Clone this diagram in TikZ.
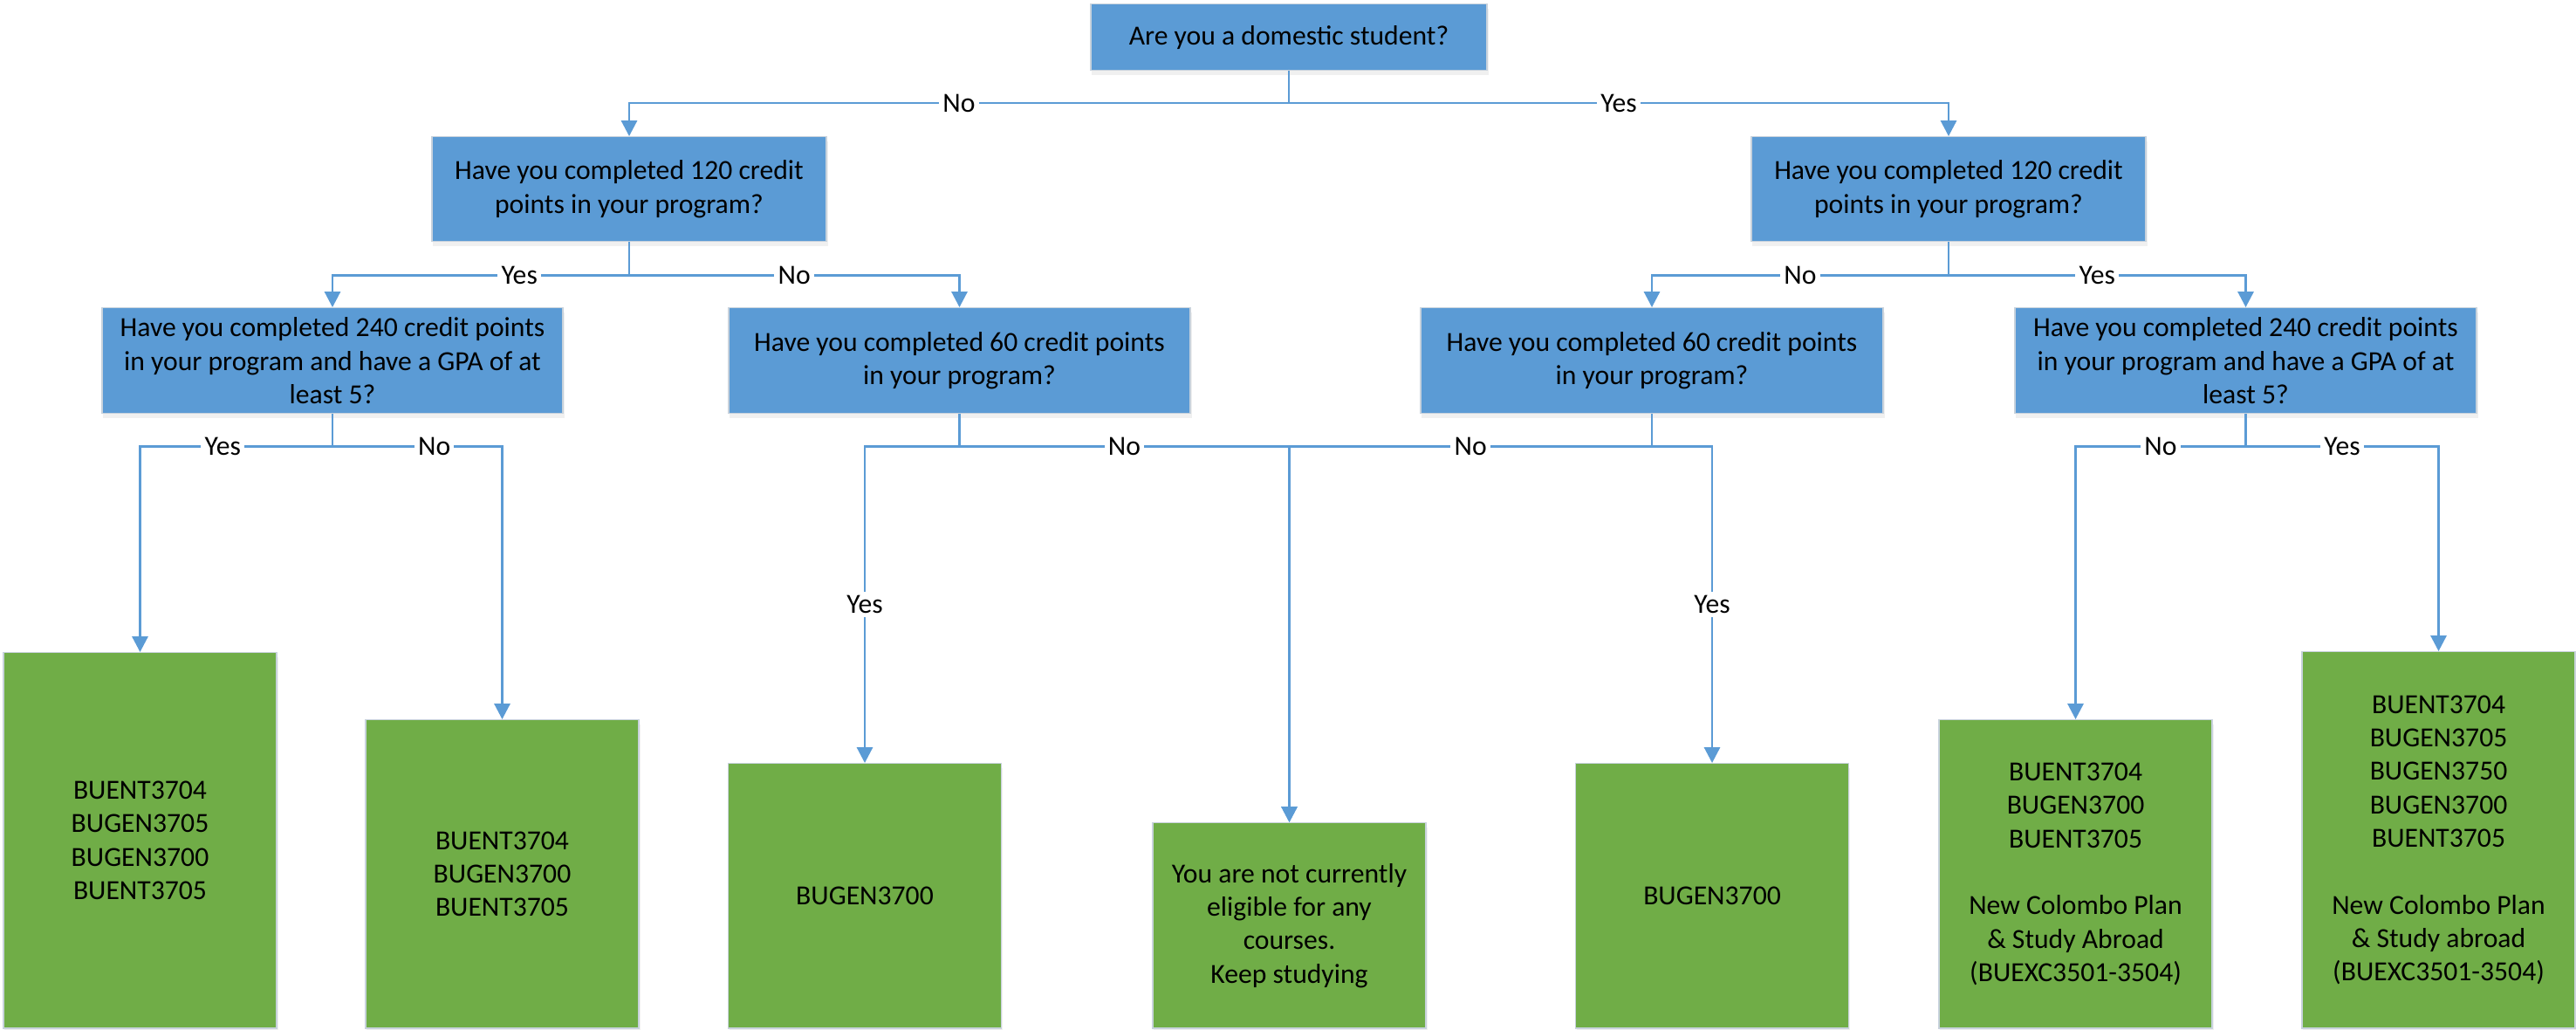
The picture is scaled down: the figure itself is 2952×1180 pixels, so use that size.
\documentclass[tikz,border=0pt]{standalone}
\usepackage{fontspec}
\setmainfont{Carlito}
\usepackage{tikz}
\usetikzlibrary{arrows.meta,positioning,shadows}
\definecolor{flowAsk}{HTML}{5B9BD5}
\definecolor{flowOut}{HTML}{70AD47}
\definecolor{flowLine}{HTML}{5B9BD5}
\definecolor{flowEdge}{HTML}{C8D2DC}
\newcommand{\flowfont}{\fontsize{9}{10.9}\selectfont}
\tikzset{
    flowBoxBase/.style={
        rectangle,
        draw=flowEdge,
        line width=0.4pt,
        font=\flowfont,
        align=center,
        inner sep=0pt,
        anchor=north,
        drop shadow={opacity=0.12, shadow xshift=0.4pt, shadow yshift=-1.4pt}
    },
    % Semantic Variants
    ask/.style={flowBoxBase, fill=flowAsk},
    outcome/.style={flowBoxBase, fill=flowOut, minimum width=3.13cm},
}

\begin{document}
\begin{tikzpicture}[
    x=0.01cm, y=-0.01cm,
    arr/.style={-{Triangle[length=5.1pt, width=5.2pt]}, line width=0.6pt, draw=flowLine},
    ans/.style={fill=white, font=\flowfont, inner sep=1.2pt},
]
\useasboundingbox (0,0) rectangle (2952,1180);

% --- Row 1: first question ---
\node[ask, minimum width=4.54cm, minimum height=0.76cm] (domestic) at (1477,4) {Are you a domestic student?};

% --- Row 2: 120 credit points ---
\node[ask, minimum width=4.52cm, minimum height=1.2cm] (int120) at (721,156)
     {Have you completed 120 credit\\points in your program?};
\node[ask, minimum width=4.52cm, minimum height=1.2cm] (dom120) at (2233,156)
     {Have you completed 120 credit\\points in your program?};

% --- Row 3: 240 / 60 credit points ---
\node[ask, minimum width=5.28cm, minimum height=1.21cm] (int240) at (381,352)
     {Have you completed 240 credit points\\in your program and have a GPA of at\\least 5?};
\node[ask, minimum width=5.29cm, minimum height=1.21cm] (int60) at (1099.5,352)
     {Have you completed 60 credit points\\in your program?};
\node[ask, minimum width=5.30cm, minimum height=1.21cm] (dom60) at (1893,352)
     {Have you completed 60 credit points\\in your program?};
\node[ask, minimum width=5.29cm, minimum height=1.21cm] (dom240) at (2573.5,352)
     {Have you completed 240 credit points\\in your program and have a GPA of at\\least 5?};

% --- Row 4: courses (all boxes end on the same bottom line) ---
\node[outcome, minimum height=4.30cm] (g1) at (160.5,747)
     {BUENT3704\\BUGEN3705\\BUGEN3700\\BUENT3705};
\node[outcome, minimum height=3.53cm] (g2) at (575.5,824)
     {BUENT3704\\BUGEN3700\\BUENT3705};
\node[outcome, minimum height=3.03cm] (g3) at (991,874) {BUGEN3700};
\node[outcome, minimum height=2.35cm] (g4) at (1477.5,942)
     {You are not currently\\eligible for any\\courses.\\Keep studying};
\node[outcome, minimum height=3.03cm] (g5) at (1962,874) {BUGEN3700};
\node[outcome, minimum height=3.53cm] (g6) at (2378.5,824)
     {BUENT3704\\BUGEN3700\\BUENT3705\\[10.9pt]New Colombo Plan\\\& Study Abroad\\(BUEXC3501-3504)};
\node[outcome, minimum height=4.31cm] (g7) at (2794.5,746)
     {BUENT3704\\BUGEN3705\\BUGEN3750\\BUGEN3700\\BUENT3705\\[10.9pt]New Colombo Plan\\\& Study abroad\\(BUEXC3501-3504)};

% Row 1 to row 2
\draw[arr] (domestic.south) -- ++(0,37) -| node[ans, pos=0.25] {No} (int120.north);
\draw[arr] (domestic.south) -- ++(0,37) -| node[ans, pos=0.25] {Yes} (dom120.north);

% Row 2 to row 3
\draw[arr] (int120.south) -- ++(0,38) -| node[ans, pos=0.185] {Yes} (int240.north);
\draw[arr] (int120.south) -- ++(0,38) -| node[ans, pos=0.25] {No} (int60.north);
\draw[arr] (dom120.south) -- ++(0,38) -| node[ans, pos=0.25] {No} (dom60.north);
\draw[arr] (dom120.south) -- ++(0,38) -| node[ans, pos=0.25] {Yes} (dom240.north);

% Row 3 to courses
\draw[arr] (int240.south) -- ++(0,37) -| node[ans, pos=0.285] {Yes} (g1.north);
\draw[arr] (int240.south) -- ++(0,37) -| node[ans, pos=0.3] {No} (g2.north);
\draw[arr] (int60.south) -- ++(0,37) -| node[ans, pos=0.75] {Yes} (g3.north);
\draw[arr] (int60.south) -- ++(0,37) -| node[ans, pos=0.25] {No} (g4.north);
\draw[arr] (dom60.south) -- ++(0,37) -| node[ans, pos=0.25] {No} (g4.north);
\draw[arr] (dom60.south) -- ++(0,37) -| node[ans, pos=0.75] {Yes} (g5.north);
\draw[arr] (dom240.south) -- ++(0,37) -| node[ans, pos=0.25] {No} (g6.north);
\draw[arr] (dom240.south) -- ++(0,37) -| node[ans, pos=0.25] {Yes} (g7.north);

\end{tikzpicture}
\end{document}
